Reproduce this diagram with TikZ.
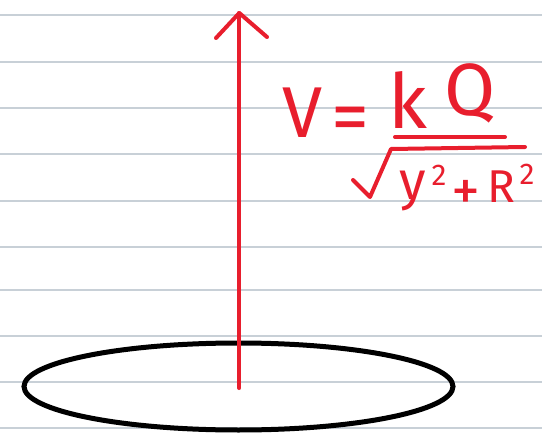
\documentclass[tikz,border=0pt]{standalone}
\usepackage{fontspec}
\setmainfont{Fira Sans}
\definecolor{ink}{RGB}{232,30,45}
\definecolor{ruleblue}{RGB}{200,208,215}
\tikzset{
  paperline/.style={draw=ruleblue, line width=1.4pt},
  redpen/.style={draw=ink, line width=4pt, line cap=round, line join=round},
  blackpen/.style={draw=black, line width=5pt},
  handtext/.style={text=ink, inner sep=0pt},
}
\begin{document}
\begin{tikzpicture}[x=1pt,y=-1pt]
\useasboundingbox (0,0) rectangle (542,434);
\fill[white] (0,0) rectangle (542,434);
\foreach \yy in {15,62,108,154,201,247,290,336,382,428}
  \draw[paperline] (0,\yy) -- (542,\yy);
% ring
\draw[blackpen] (238.5,386.5) ellipse [x radius=214.5, y radius=43.5];
% axis arrow
\coordinate (base) at (239.3,388);
\coordinate (tip) at (239.3,13);
\coordinate (hl) at (216,38);
\coordinate (hr) at (267,37);
\draw[redpen] (base) -- (tip);
\draw[redpen] (hl) -- (tip) -- (hr);
% formula
\node[handtext, anchor=base, font=\fontsize{72}{80}\selectfont] (V) at (303,137) {V};
\node[handtext, anchor=base, font=\fontsize{76}{80}\selectfont] (eq) at (350,142) {=};
\node[handtext, font=\fontsize{76}{80}\selectfont] (k) at (408,100) {k};
\node[handtext, font=\fontsize{74}{80}\selectfont] (Q) at (470,93) {Q};
\coordinate (fb1) at (395,137);
\coordinate (fb2) at (505,137);
\draw[redpen] (fb1) -- (fb2);
\coordinate (r1) at (353,180);
\coordinate (r2) at (370,197);
\coordinate (r3) at (391,149);
\coordinate (r4) at (525,147);
\draw[redpen] (r1) -- (r2) -- (r3) -- (r4);
\node[handtext, anchor=base, font=\fontsize{54}{60}\selectfont] (y) at (413,199) {y};
\node[handtext, font=\fontsize{30}{34}\selectfont] (s1) at (439,175) {2};
\node[handtext, anchor=base, font=\fontsize{58}{60}\selectfont] (plus) at (466,210) {+};
\node[handtext, font=\fontsize{46}{50}\selectfont] (R) at (501,187) {R};
\node[handtext, font=\fontsize{30}{34}\selectfont] (s2) at (527,174) {2};
\end{tikzpicture}
\end{document}
